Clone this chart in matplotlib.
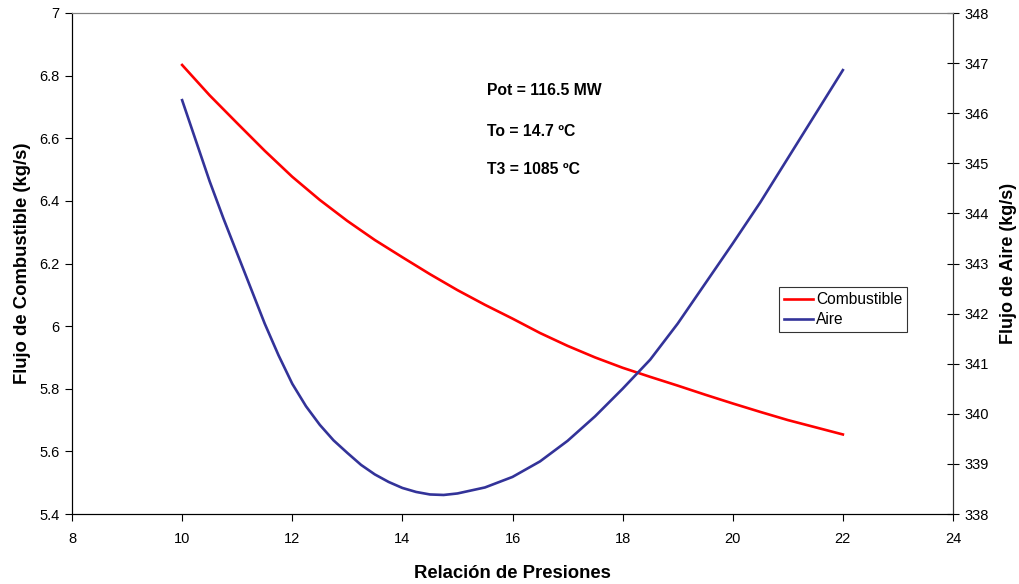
import matplotlib
matplotlib.use("Agg")
import matplotlib.pyplot as plt

plt.rcParams['font.family'] = ['Liberation Sans', 'DejaVu Sans']

# data
relacion_comb = [10, 10.5, 11, 11.5, 12, 12.5, 13, 13.5, 14, 14.5, 15, 15.5, 16,
                 16.5, 17, 17.5, 18, 18.5, 19, 19.5, 20, 20.5, 21, 21.5, 22]
combustible = [6.834, 6.737, 6.648, 6.56, 6.477, 6.403, 6.336, 6.275, 6.22, 6.166, 6.115,
               6.068, 6.024, 5.978, 5.937, 5.90, 5.867, 5.838, 5.81, 5.781, 5.753,
               5.726, 5.70, 5.677, 5.654]

relacion_aire = [10, 10.25, 10.5, 10.75, 11, 11.25, 11.5, 11.75, 12, 12.25, 12.5, 12.75,
                 13, 13.25, 13.5, 13.75, 14, 14.25, 14.5, 14.75, 15, 15.5, 16,
                 16.5, 17, 17.5, 18, 18.5, 19, 19.5, 20, 20.5, 21, 21.5, 22]
aire = [346.26, 345.45, 344.64, 343.9, 343.2, 342.5, 341.8, 341.17, 340.6, 340.15,
        339.78, 339.47, 339.22, 338.98, 338.79, 338.64, 338.52, 338.44, 338.39, 338.38,
        338.41, 338.53, 338.74, 339.05, 339.46, 339.95, 340.5, 341.08, 341.8, 342.6,
        343.4, 344.22, 345.1, 345.98, 346.86]

notas = ["Pot = 116.5 MW", "To = 14.7 ºC", "T3 = 1085 ºC"]

fig = plt.figure(figsize=(10.19, 5.84), dpi=100)
ax = fig.add_axes([72/1019, 1-514/584, 881/1019, 501/584])
ax2 = ax.twinx()

l1, = ax.plot(relacion_comb, combustible, color='#FF0000', lw=1.9, label='Combustible')
l2, = ax2.plot(relacion_aire, aire, color='#333399', lw=1.9, label='Aire')

ax.set_xlim(8, 24)
ax.set_ylim(5.4, 7)
ax2.set_ylim(338, 348)
ax.set_xticks(range(8, 25, 2))
ax.set_yticks([5.4, 5.6, 5.8, 6, 6.2, 6.4, 6.6, 6.8, 7])
ax.set_yticklabels(['5.4', '5.6', '5.8', '6', '6.2', '6.4', '6.6', '6.8', '7'])
ax2.set_yticks(range(338, 349))

ax.tick_params(axis='y', direction='out', length=5, labelsize=10.5, pad=4)
ax.tick_params(axis='x', direction='out', length=5, labelsize=10.5, pad=8)
ax2.tick_params(axis='y', direction='inout', length=8, labelsize=10.5, pad=4)

for a in (ax, ax2):
    a.spines['top'].set_color('#808080')
    a.spines['left'].set_color('black')
    a.spines['bottom'].set_color('black')
    a.spines['right'].set_color('#333333')

ax.set_xlabel('Relación de Presiones', fontsize=13.3, fontweight='bold', labelpad=13.5)
ax.set_ylabel('Flujo de Combustible (kg/s)', fontsize=13.3, fontweight='bold', labelpad=6)
ax2.set_ylabel('Flujo de Aire (kg/s)', fontsize=13, fontweight='bold', labelpad=8.5)

for txt, yy in zip(notas, [0.846, 0.764, 0.687]):
    ax.text(0.471, yy, txt, transform=ax.transAxes, fontsize=11.3,
            fontweight='bold', va='center', ha='left')

leg = ax2.legend(handles=[l1, l2], loc='lower left', bbox_to_anchor=(0.8025, 0.363),
                 fontsize=11.2, frameon=True, fancybox=False, shadow=False,
                 handlelength=1.9, handletextpad=0.2, borderpad=0.3,
                 labelspacing=0.35, borderaxespad=0)
leg.get_frame().set_edgecolor('black')
leg.get_frame().set_linewidth(0.8)

fig.savefig('out.png', dpi=100)
